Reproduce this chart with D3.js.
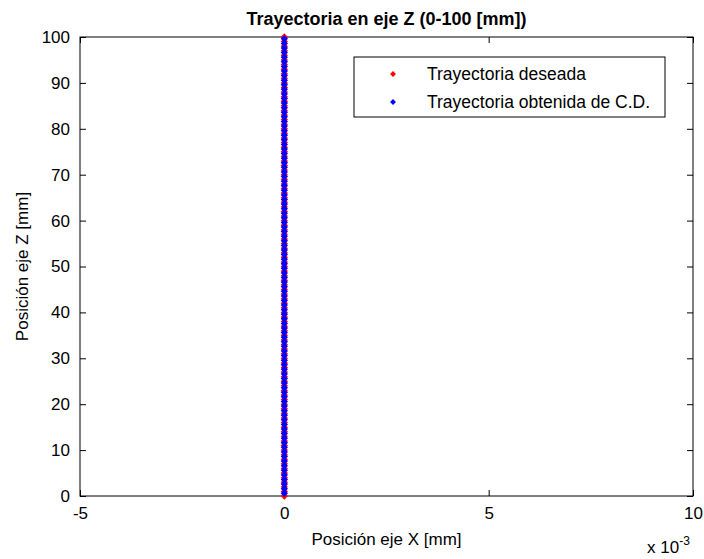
<!DOCTYPE html>
<html>
<head>
<meta charset="utf-8">
<script src="https://cdn.jsdelivr.net/npm/d3@7"></script>
<style>
  html, body { margin: 0; padding: 0; background: #fff; }
  svg { display: block; font-family: "Liberation Sans", Arial, Helvetica, sans-serif; }
</style>
</head>
<body>
<svg id="chart" width="704" height="559"></svg>
<script>
// Desired trajectory along Z (x stays at 0)
const desiredZ = [0,1,2,3,4,5,6,7,8,9,10,11,12,13,14,15,16,17,18,19,20,21,22,23,24,25,26,27,28,29,30,
  31,32,33,34,35,36,37,38,39,40,41,42,43,44,45,46,47,48,49,50,51,52,53,54,55,56,57,58,59,60,
  61,62,63,64,65,66,67,68,69,70,71,72,73,74,75,76,77,78,79,80,81,82,83,84,85,86,87,88,89,90,
  91,92,93,94,95,96,97,98,99,100];
const desiredX = desiredZ.map(() => 0);

// Trajectory obtained from direct kinematics (C.D.)
const obtainedZ = [0.6,1.6,2.6,3.6,4.6,5.6,6.6,7.6,8.6,9.6,10.6,11.6,12.6,13.6,14.6,15.6,16.6,17.6,18.6,19.6,
  20.6,21.6,22.6,23.6,24.6,25.6,26.6,27.6,28.6,29.6,30.6,31.6,32.6,33.6,34.6,35.6,36.6,37.6,38.6,39.6,
  40.6,41.6,42.6,43.6,44.6,45.6,46.6,47.6,48.6,49.6,50.6,51.6,52.6,53.6,54.6,55.6,56.6,57.6,58.6,59.6,
  60.6,61.6,62.6,63.6,64.6,65.6,66.6,67.6,68.6,69.6,70.6,71.6,72.6,73.6,74.6,75.6,76.6,77.6,78.6,79.6,
  80.6,81.6,82.6,83.6,84.6,85.6,86.6,87.6,88.6,89.6,90.6,91.6,92.6,93.6,94.6,95.6,96.6,97.6,98.6,99.6];
const obtainedX = obtainedZ.map(() => 0);

// Axis ticks (x in units of 1e-3 mm)
const xTicks = [-5, 0, 5, 10];
const yTicks = [0, 10, 20, 30, 40, 50, 60, 70, 80, 90, 100];

const seriesNames = ["Trayectoria deseada", "Trayectoria obtenida de C.D."];
const seriesColors = ["#ff0000", "#0000ff"];

const svg = d3.select("#chart");
const m = { left: 80, right: 693, top: 37, bottom: 496 };

const x = d3.scaleLinear().domain([-5, 10]).range([m.left, m.right]);
const y = d3.scaleLinear().domain([0, 100]).range([m.bottom, m.top]);

const fontSize = 17;
const tickLen = 6;

// Plot frame
svg.append("rect")
  .attr("x", m.left).attr("y", m.top)
  .attr("width", m.right - m.left).attr("height", m.bottom - m.top)
  .attr("fill", "#fff").attr("stroke", "#000").attr("stroke-width", 1);

// Axes with inward ticks on all four sides
function styleAxis(g) {
  g.select(".domain").remove();
  g.selectAll(".tick line").attr("stroke", "#000");
  g.selectAll(".tick text").attr("font-size", fontSize).attr("fill", "#000")
    .attr("font-family", "'Liberation Sans', Arial, sans-serif");
}
const plain = d => String(d);

svg.append("g").attr("transform", `translate(0,${m.bottom})`)
  .call(d3.axisBottom(x).tickValues(xTicks).tickSizeInner(-tickLen).tickSizeOuter(0).tickPadding(11).tickFormat(plain))
  .call(styleAxis);
svg.append("g").attr("transform", `translate(0,${m.top})`)
  .call(d3.axisTop(x).tickValues(xTicks).tickSizeInner(-tickLen).tickSizeOuter(0).tickFormat(""))
  .call(styleAxis);
svg.append("g").attr("transform", `translate(${m.left},0)`)
  .call(d3.axisLeft(y).tickValues(yTicks).tickSizeInner(-tickLen).tickSizeOuter(0).tickPadding(10).tickFormat(plain))
  .call(styleAxis);
svg.append("g").attr("transform", `translate(${m.right},0)`)
  .call(d3.axisRight(y).tickValues(yTicks).tickSizeInner(-tickLen).tickSizeOuter(0).tickFormat(""))
  .call(styleAxis);

// Data markers (small diamonds)
const diamond = d3.symbol().type(d3.symbolDiamond2).size(34);
const plot = svg.append("g");
plot.selectAll("path.des").data(desiredZ).join("path")
  .attr("class", "des")
  .attr("transform", (d, i) => `translate(${x(desiredX[i])},${y(d)})`)
  .attr("d", diamond).attr("fill", seriesColors[0]);
plot.selectAll("path.obt").data(obtainedZ).join("path")
  .attr("class", "obt")
  .attr("transform", (d, i) => `translate(${x(obtainedX[i])},${y(d)})`)
  .attr("d", diamond).attr("fill", seriesColors[1]);

// Title
svg.append("text")
  .attr("x", (m.left + m.right) / 2).attr("y", 25)
  .attr("text-anchor", "middle").attr("font-size", 18).attr("font-weight", "bold")
  .text("Trayectoria en eje Z (0-100 [mm])");

// Axis labels
svg.append("text")
  .attr("x", (m.left + m.right) / 2).attr("y", 545)
  .attr("text-anchor", "middle").attr("font-size", fontSize)
  .text("Posición eje X [mm]");
svg.append("text")
  .attr("transform", `translate(28,${(m.top + m.bottom) / 2}) rotate(-90)`)
  .attr("text-anchor", "middle").attr("font-size", fontSize)
  .text("Posición eje Z [mm]");

// Exponent for x axis
const expo = svg.append("text").attr("x", 647).attr("y", 553).attr("font-size", fontSize);
expo.append("tspan").text("x 10");
expo.append("tspan").attr("dy", -8).attr("font-size", 12).text("-3");

// Legend
const lg = svg.append("g");
lg.append("rect").attr("x", 354).attr("y", 57).attr("width", 311).attr("height", 60)
  .attr("fill", "#fff").attr("stroke", "#000");
const legendMark = d3.symbol().type(d3.symbolDiamond2).size(22);
seriesNames.forEach((name, i) => {
  const cy = 74 + i * 28;
  lg.append("path").attr("transform", `translate(393,${cy})`).attr("d", legendMark).attr("fill", seriesColors[i]);
  lg.append("text").attr("x", 427).attr("y", cy + 6).attr("font-size", 17.5).text(name);
});
</script>
</body>
</html>
